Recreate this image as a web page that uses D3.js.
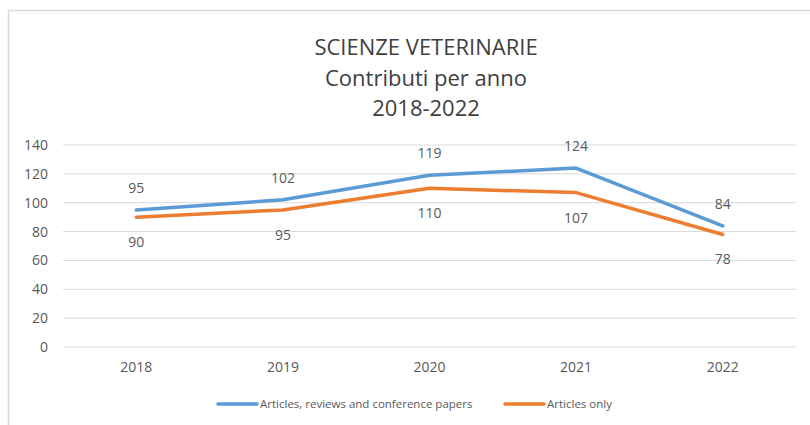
<!DOCTYPE html>
<html>
<head>
<meta charset="utf-8">
<script src="https://cdn.jsdelivr.net/npm/d3@7"></script>
<style>
  body { margin: 0; background: #fff; }
  text { font-family: "Open Sans", "Liberation Sans", sans-serif; fill: #595959; }
</style>
</head>
<body>
<svg id="chart" width="810" height="425"></svg>
<script>
// data
var years = ["2018", "2019", "2020", "2021", "2022"];
var allPapers = [95, 102, 119, 124, 84];
var articlesOnly = [90, 95, 110, 107, 78];
var yTicks = [0, 20, 40, 60, 80, 100, 120, 140];
var titleLines = ["SCIENZE VETERINARIE", "Contributi per anno", "2018-2022"];
var seriesNames = ["Articles, reviews and conference papers", "Articles only"];

var blue = "#5B9BD5", orange = "#ED7D31";
var svg = d3.select("#chart");

// outer frame (only top and left edges visible)
svg.append("line").attr("x1", 8.5).attr("x2", 810).attr("y1", 10.5).attr("y2", 10.5)
    .attr("stroke", "#d9d9d9").attr("stroke-width", 1.5);
svg.append("line").attr("x1", 8.5).attr("x2", 8.5).attr("y1", 10.5).attr("y2", 425)
    .attr("stroke", "#d9d9d9").attr("stroke-width", 1.5);

// title
svg.append("g").selectAll("text")
    .data(titleLines)
    .enter().append("text")
    .attr("x", 426)
    .attr("y", (d, i) => 55 + i * 30.5)
    .attr("text-anchor", "middle")
    .style("font-size", "22px")
    .style("fill", "#404040")
    .text(d => d);

var x = d3.scaleBand().domain(years).range([63, 796]);
var y = d3.scaleLinear().domain([0, 140]).range([347, 145]);

// gridlines
svg.append("g").selectAll("line")
    .data(yTicks)
    .enter().append("line")
    .attr("x1", 63).attr("x2", 796)
    .attr("y1", d => y(d)).attr("y2", d => y(d))
    .attr("stroke", "#d9d9d9").attr("stroke-width", 1);

// y axis labels
var yAxis = svg.append("g").attr("transform", "translate(48,0)")
    .call(d3.axisLeft(y).tickValues(yTicks).tickSize(0).tickPadding(0));
yAxis.select(".domain").remove();
yAxis.selectAll("text").style("font-size", "14px").style("fill", "#595959")
    .style("font-family", "\"Open Sans\", \"Liberation Sans\", sans-serif");

// x axis labels
var xAxis = svg.append("g").attr("transform", "translate(0,362)")
    .call(d3.axisBottom(x).tickSize(0).tickPadding(0));
xAxis.select(".domain").remove();
xAxis.selectAll("text").style("font-size", "14px").style("fill", "#595959")
    .style("font-family", "\"Open Sans\", \"Liberation Sans\", sans-serif");

var cx = d => x(d) + x.bandwidth() / 2;
var line = d3.line().x(d => cx(d.year)).y(d => y(d.value));

function drawSeries(values, color, labelDy) {
    var pts = years.map((yr, i) => ({ year: yr, value: values[i] }));
    svg.append("path").datum(pts)
        .attr("d", line)
        .attr("fill", "none")
        .attr("stroke", color)
        .attr("stroke-width", 3.5)
        .attr("stroke-linejoin", "round")
        .attr("stroke-linecap", "round");
    svg.append("g").selectAll("text")
        .data(pts)
        .enter().append("text")
        .attr("x", d => cx(d.year))
        .attr("y", d => y(d.value) + labelDy)
        .attr("text-anchor", "middle")
        .style("font-size", "14px")
        .text(d => d.value);
}
drawSeries(allPapers, blue, -17);
drawSeries(articlesOnly, orange, 30);

// legend
var legend = svg.append("g");
[[218, blue, seriesNames[0]], [505, orange, seriesNames[1]]].forEach(function (it) {
    legend.append("line").attr("x1", it[0]).attr("x2", it[0] + 39)
        .attr("y1", 404).attr("y2", 404)
        .attr("stroke", it[1]).attr("stroke-width", 3.5).attr("stroke-linecap", "round");
    legend.append("text").attr("x", it[0] + 42).attr("y", 408)
        .style("font-size", "11.5px").text(it[2]);
});
</script>
</body>
</html>
